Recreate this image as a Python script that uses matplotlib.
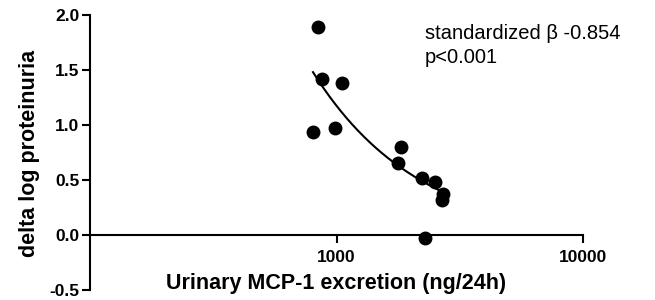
import numpy as np
import matplotlib
matplotlib.use("Agg")
import matplotlib.pyplot as plt

# MCP-1 excretion (ng/24h) vs delta log proteinuria
mcp1 = [841, 873, 803, 1052, 986, 1828, 1775, 2222, 2513, 2704, 2680, 2285]
delta_prot = [1.89, 1.42, 0.94, 1.38, 0.97, 0.80, 0.655, 0.52, 0.48, 0.37, 0.32, -0.03]

# fitted curve y = a + b / x, drawn over the data range
fit_a = -0.07
fit_b = 1245.0
fit_range = [803, 2704]

y_ticks = [-0.5, 0.0, 0.5, 1.0, 1.5, 2.0]
x_ticks = [1000, 10000]
x_ticklabels = ["1000", "10000"]

plt.rcParams['font.family'] = ['Liberation Sans', 'DejaVu Sans']
plt.rcParams['axes.unicode_minus'] = False

fig = plt.figure(figsize=(6.55, 3.0), dpi=100)
ax = fig.add_axes([90 / 655, 10 / 300, 493 / 655, 275 / 300])

xs = np.linspace(fit_range[0], fit_range[1], 200)
ax.plot(xs, fit_a + fit_b / xs, color="black", lw=1.5)
ax.plot(mcp1, delta_prot, "o", color="black", markersize=9, clip_on=False)

ax.set_xscale("log")
ax.set_xlim(100, 10000)
ax.set_ylim(-0.5, 2.0)
ax.set_xticks(x_ticks)
ax.set_xticklabels(x_ticklabels)
ax.xaxis.set_minor_locator(matplotlib.ticker.NullLocator())
ax.set_yticks(y_ticks)
ax.set_yticklabels(["%.1f" % v for v in y_ticks])

ax.spines['top'].set_visible(False)
ax.spines['right'].set_visible(False)
ax.spines['bottom'].set_position(('data', 0))
for s in ['left', 'bottom']:
    ax.spines[s].set_linewidth(1.5)

ax.tick_params(axis='both', direction='out', length=6, width=1.5, labelsize=12.5)
ax.tick_params(axis='y', pad=1.5)
ax.tick_params(axis='x', pad=5)
for lab in ax.get_xticklabels() + ax.get_yticklabels():
    lab.set_fontweight("bold")

fig.text(336 / 655, 1 - 283 / 300, "Urinary MCP-1 excretion (ng/24h)",
         ha="center", va="center", fontsize=15.5, fontweight="bold")
fig.text(30 / 655, 1 - 153 / 300, "delta log proteinuria", rotation=90,
         ha="center", va="center", fontsize=15.5, fontweight="bold")

fig.text(425 / 655, 1 - 39 / 300, "standardized \u03b2 -0.854",
         ha="left", va="baseline", fontsize=14.5)
fig.text(425 / 655, 1 - 63 / 300, "p<0.001",
         ha="left", va="baseline", fontsize=14.5)

fig.savefig("out.png", dpi=100)
